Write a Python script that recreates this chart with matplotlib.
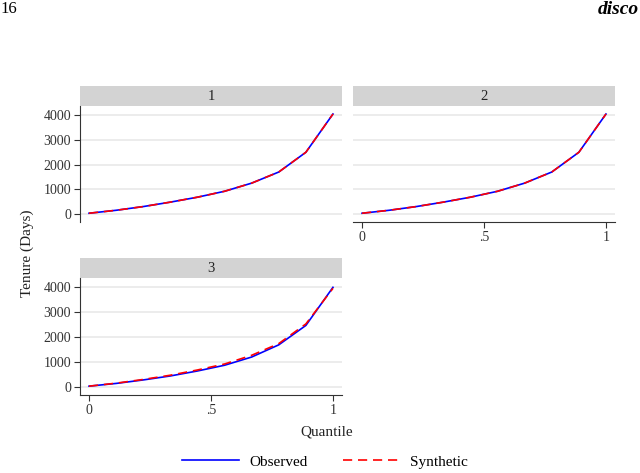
import matplotlib
matplotlib.use("Agg")
import matplotlib.pyplot as plt

plt.rcParams['font.family'] = ['Liberation Serif', 'DejaVu Serif']

# quantiles and tenure (days) per group
quantile = [0, 1/9, 2/9, 3/9, 4/9, 5/9, 6/9, 7/9, 8/9, 1]
groups = ['1', '2', '3']
observed = {
    '1': [30, 150, 300, 480, 680, 920, 1250, 1700, 2500, 4050],
    '2': [30, 150, 300, 480, 680, 920, 1250, 1700, 2500, 4050],
    '3': [30, 140, 280, 440, 640, 870, 1200, 1690, 2470, 4000],
}
synthetic = {
    '1': [30, 150, 300, 480, 680, 920, 1250, 1700, 2500, 4050],
    '2': [30, 150, 300, 480, 680, 920, 1250, 1700, 2500, 4050],
    '3': [30, 150, 300, 470, 680, 920, 1270, 1740, 2530, 3960],
}
yticks = [0, 1000, 2000, 3000, 4000]
xticks = [0, 0.5, 1]
xticklabels = ['0', '.5', '1']

W, H = 640, 473
fig = plt.figure(figsize=(6.4, 4.73), dpi=100)


def px_box(x0, y0, x1, y1):
    return [x0 / W, 1 - y1 / H, (x1 - x0) / W, (y1 - y0) / H]


# panel boxes in pixels: (left, top of strip, strip bottom, axis bottom, right)
boxes = {
    '1': (80, 86, 106, 222, 342),
    '2': (353, 86, 106, 222, 615),
    '3': (80, 258, 278, 395, 342),
}
show_x = {'1': False, '2': True, '3': True}
show_y = {'1': True, '2': False, '3': True}

for g in groups:
    x0, s0, s1, yb, x1 = boxes[g]
    strip = fig.add_axes(px_box(x0, s0, x1, s1))
    strip.set_facecolor('#d3d3d3')
    strip.set_xticks([])
    strip.set_yticks([])
    for sp in strip.spines.values():
        sp.set_visible(False)
    strip.text(0.5, 0.5, g, ha='center', va='center', fontsize=10.5, color='#222222')

    ax = fig.add_axes(px_box(x0, s1, x1, yb))
    ax.plot(quantile, observed[g], color='#0000ff', lw=1.2, label='Observed')
    ax.plot(quantile, synthetic[g], color='#ff0000', lw=1.2, ls=(0, (5.5, 3.5)), label='Synthetic')
    ax.set_xlim(-0.037, 1.037)
    ax.set_ylim(-325, 4375)
    ax.set_yticks(yticks)
    ax.grid(axis='y', color='#eaeaea', lw=1.3)
    ax.set_axisbelow(True)
    ax.spines['top'].set_visible(False)
    ax.spines['right'].set_visible(False)
    ax.spines['left'].set_color('#333333')
    ax.spines['bottom'].set_color('#333333')
    ax.tick_params(labelsize=10, colors='#333333', length=4, width=0.8, pad=2.5)
    if show_y[g]:
        ax.set_yticklabels([str(t) for t in yticks])
    else:
        ax.spines['left'].set_visible(False)
        ax.tick_params(axis='y', left=False, labelleft=False)
    if show_x[g]:
        ax.set_xticks(xticks)
        ax.set_xticklabels(xticklabels)
    else:
        ax.spines['bottom'].set_visible(False)
        ax.tick_params(axis='x', bottom=False, labelbottom=False)
    if g == '3':
        handles, labels = ax.get_legend_handles_labels()

fig.text(27 / W, 1 - 253 / H, 'Tenure (Days)', rotation=90, ha='center', va='center',
         fontsize=11, color='#222222')
fig.text(327 / W, 1 - 432 / H, 'Quantile', ha='center', va='center', fontsize=11, color='#222222')
fig.legend(handles, labels, loc='center', bbox_to_anchor=(325 / W, 1 - 462 / H), ncol=2,
           frameon=False, fontsize=11, handlelength=3.7, columnspacing=2.3, handletextpad=0.7)

fig.text(0 / W, 1 - 9 / H, '16', ha='left', va='center', fontsize=12)
fig.text(639 / W, 1 - 9 / H, 'disco', ha='right', va='center', fontsize=14,
         fontweight='bold', style='italic')

fig.savefig('out.png', dpi=100)
